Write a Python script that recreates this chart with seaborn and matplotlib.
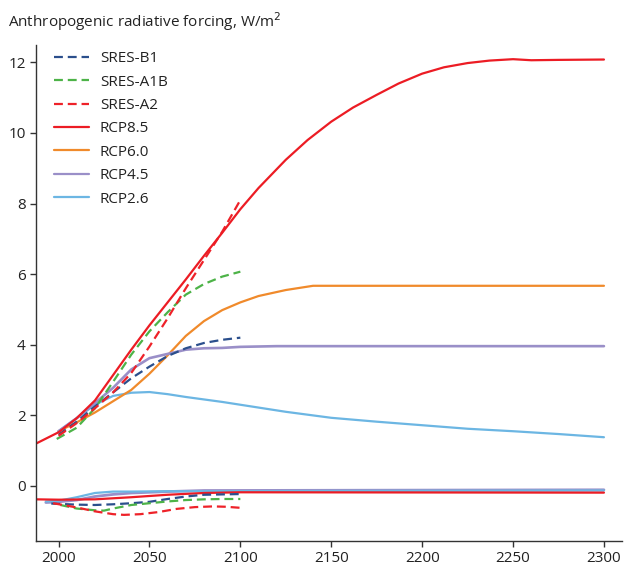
import matplotlib
matplotlib.use("Agg")
import matplotlib.pyplot as plt
import seaborn as sns
import pandas as pd
from matplotlib.lines import Line2D

# ---------------- data ----------------
b1_years = [2000, 2010, 2020, 2030, 2040, 2050, 2060, 2070, 2080, 2090, 2100]
b1_vals = [1.45, 1.82, 2.25, 2.65, 3.05, 3.38, 3.68, 3.90, 4.05, 4.14, 4.20]

a1b_years = [1999, 2010, 2020, 2030, 2040, 2050, 2060, 2070, 2080, 2090, 2100]
a1b_vals = [1.33, 1.65, 2.20, 2.95, 3.72, 4.38, 4.92, 5.42, 5.72, 5.93, 6.07]

a2_years = [2000, 2010, 2020, 2030, 2040, 2050, 2060, 2070, 2080, 2090, 2100]
a2_vals = [1.42, 1.78, 2.20, 2.65, 3.20, 3.95, 4.75, 5.60, 6.40, 7.20, 8.10]

rcp85_years = [1988, 2000, 2010, 2020, 2030, 2040, 2050, 2060, 2070, 2080, 2090,
               2100, 2110, 2125, 2137, 2150, 2162, 2175, 2187, 2200, 2212, 2225,
               2237, 2250, 2260, 2275, 2300]
rcp85_vals = [1.21, 1.52, 1.92, 2.42, 3.14, 3.86, 4.55, 5.20, 5.85, 6.52, 7.17,
              7.84, 8.44, 9.24, 9.80, 10.32, 10.72, 11.08, 11.40, 11.68, 11.86, 11.98,
              12.05, 12.09, 12.06, 12.07, 12.08]

rcp60_years = [2000, 2010, 2020, 2030, 2040, 2050, 2060, 2070, 2080, 2090, 2100,
               2110, 2125, 2140, 2300]
rcp60_vals = [1.55, 1.80, 2.08, 2.40, 2.72, 3.18, 3.70, 4.25, 4.67, 4.98, 5.20,
              5.38, 5.55, 5.67, 5.67]

rcp45_years = [2000, 2010, 2020, 2030, 2040, 2050, 2060, 2070, 2080, 2090, 2100,
               2120, 2300]
rcp45_vals = [1.55, 1.92, 2.35, 2.78, 3.30, 3.62, 3.74, 3.86, 3.90, 3.91, 3.94,
              3.96, 3.96]

rcp26_years = [2000, 2010, 2020, 2030, 2040, 2050, 2060, 2070, 2080, 2090, 2100,
               2125, 2150, 2175, 2200, 2225, 2250, 2275, 2300]
rcp26_vals = [1.55, 1.92, 2.30, 2.55, 2.64, 2.66, 2.60, 2.52, 2.45, 2.38, 2.30,
              2.10, 1.93, 1.82, 1.72, 1.62, 1.55, 1.47, 1.38]

# negative (aerosol-like) components
rcp85n_years = [1988, 2000, 2020, 2040, 2060, 2080, 2100, 2300]
rcp85n_vals = [-0.38, -0.39, -0.38, -0.32, -0.25, -0.20, -0.18, -0.19]

rcp26n_years = [1993, 2000, 2010, 2020, 2030, 2040, 2060, 2300]
rcp26n_vals = [-0.44, -0.42, -0.32, -0.20, -0.16, -0.16, -0.15, -0.13]

rcp45n_years = [1993, 2000, 2010, 2020, 2030, 2040, 2060, 2080, 2300]
rcp45n_vals = [-0.47, -0.45, -0.40, -0.30, -0.24, -0.20, -0.16, -0.13, -0.11]

b1n_years = [1996, 2010, 2020, 2030, 2040, 2050, 2060, 2070, 2080, 2090, 2100]
b1n_vals = [-0.50, -0.53, -0.54, -0.52, -0.49, -0.45, -0.37, -0.30, -0.25, -0.24, -0.23]

a1bn_years = [2001, 2010, 2020, 2025, 2030, 2040, 2050, 2060, 2070, 2080, 2090, 2100]
a1bn_vals = [-0.54, -0.64, -0.69, -0.70, -0.64, -0.54, -0.49, -0.44, -0.40, -0.38, -0.37, -0.37]

a2n_years = [1997, 2010, 2020, 2030, 2036, 2045, 2055, 2065, 2075, 2085, 2092, 2100]
a2n_vals = [-0.49, -0.61, -0.72, -0.80, -0.82, -0.80, -0.74, -0.65, -0.60, -0.58, -0.59, -0.62]

x_ticks = [2000, 2050, 2100, 2150, 2200, 2250, 2300]
y_ticks = [0, 2, 4, 6, 8, 10, 12]

# ---------------- style ----------------
sns.set_style("ticks")
plt.rcParams['font.family'] = ['Open Sans', 'DejaVu Sans']

C_B1 = "#2b4f8c"
C_A1B = "#4db348"
C_A2 = "#ee2229"
C_85 = "#ec1c24"
C_60 = "#f08a2b"
C_45 = "#9a8fc8"
C_26 = "#6cb6e3"

fig = plt.figure(figsize=(6.24, 5.74), dpi=100)
ax = fig.add_axes([0.058, 0.0575, 0.939, 0.864])

LW = 1.6
DASH = (4, 2.2)

def draw(years, vals, color, dashed=False, lw=LW):
    df = pd.DataFrame({"year": years, "value": vals})
    sns.lineplot(data=df, x="year", y="value", color=color, linewidth=lw,
                 estimator=None, sort=False, ax=ax, legend=False)
    line = ax.lines[-1]
    line.set_solid_joinstyle("round")
    line.set_dash_joinstyle("round")
    if dashed:
        line.set_dashes(DASH)
    return line

# negative components (drawn first)
draw(rcp45n_years, rcp45n_vals, C_45, lw=2.0)
draw(rcp26n_years, rcp26n_vals, C_26)
draw(rcp85n_years, rcp85n_vals, C_85)
draw(b1n_years, b1n_vals, C_B1, dashed=True)
draw(a1bn_years, a1bn_vals, C_A1B, dashed=True)
draw(a2n_years, a2n_vals, C_A2, dashed=True)

# positive components
draw(rcp26_years, rcp26_vals, C_26)
draw(rcp60_years, rcp60_vals, C_60)
draw(rcp45_years, rcp45_vals, C_45, lw=1.9)
draw(b1_years, b1_vals, C_B1, dashed=True)
draw(a1b_years, a1b_vals, C_A1B, dashed=True)
draw(a2_years, a2_vals, C_A2, dashed=True)
draw(rcp85_years, rcp85_vals, C_85)

ax.set_xlim(1987.7, 2310)
ax.set_ylim(-1.56, 12.49)
ax.set_xticks(x_ticks)
ax.set_yticks(y_ticks)
ax.set_xlabel("")
ax.set_ylabel("")
sns.despine(ax=ax)
for s in ["left", "bottom"]:
    ax.spines[s].set_color("#333333")
    ax.spines[s].set_linewidth(1.0)
ax.tick_params(axis="both", direction="out", length=4, width=1.0,
               colors="#333333", labelsize=11, labelcolor="#222222")

fig.text(0.013, 0.962, "Anthropogenic radiative forcing, W/m$^2$",
         fontsize=11, color="#222222", va="center", ha="left")

handles = [
    Line2D([], [], color=C_B1, lw=LW, dashes=DASH),
    Line2D([], [], color=C_A1B, lw=LW, dashes=DASH),
    Line2D([], [], color=C_A2, lw=LW, dashes=DASH),
    Line2D([], [], color=C_85, lw=LW),
    Line2D([], [], color=C_60, lw=LW),
    Line2D([], [], color=C_45, lw=LW),
    Line2D([], [], color=C_26, lw=LW),
]
labels = ["SRES-B1", "SRES-A1B", "SRES-A2", "RCP8.5", "RCP6.0", "RCP4.5", "RCP2.6"]
leg = ax.legend(handles, labels, loc="upper left", bbox_to_anchor=(0.02, 1.0),
                frameon=False, fontsize=11, handlelength=2.3, handletextpad=0.7,
                labelspacing=0.55, borderaxespad=0.0)
for t in leg.get_texts():
    t.set_color("#222222")

fig.savefig("out.png", dpi=100)
